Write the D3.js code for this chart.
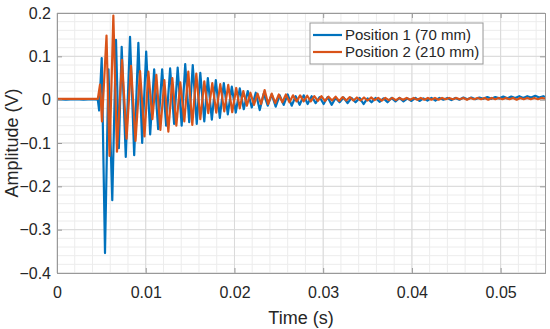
<!DOCTYPE html>
<html>
<head>
<meta charset="utf-8">
<script src="https://cdn.jsdelivr.net/npm/d3@7"></script>
<style>
  body { margin: 0; background: #fff; }
  svg { display: block; font-family: "Liberation Sans", Arial, sans-serif; }
</style>
</head>
<body>
<svg width="550" height="329"></svg>
<script>
// time in ms, amplitude in V
const pos1 = [
  [0,0.001],[1,0],[2,0.001],[3,0],[4,0.001],[4.6,0],[4.75,-0.025],[5.04,0.096],[5.41,-0.354],
  [5.8,0.07],[6.23,-0.232],[6.65,0.138],[6.97,-0.112],[7.29,0.122],[7.75,-0.132],[8.23,0.145],
  [8.7,-0.128],[9.17,0.131],[9.6,-0.1],[10.05,0.111],[10.5,-0.08],[10.95,0.07],[11.4,-0.068],
  [11.85,0.07],[12.3,-0.06],[12.75,0.072],[13.2,-0.056],[13.6,0.074],[14.05,-0.06],[14.45,0.082],
  [14.9,-0.052],[15.3,0.08],[15.75,-0.056],[16.15,0.062],[16.6,-0.05],[17.0,0.05],[17.45,-0.046],
  [17.9,0.045],[18.35,-0.042],[18.8,0.038],[19.25,-0.034],[19.7,0.03],[20.15,-0.03],[20.6,0.026],
  [21.05,-0.022],[21.5,0.02],[21.95,-0.018],[22.4,0.016],[22.85,-0.024],[23.3,0.014],[23.75,-0.014],
  [24.2,0.012],[24.65,-0.016],[25.1,0.01],[25.55,-0.012],[26.0,0.012],[26.45,-0.014],[26.9,0.008],
  [27.35,-0.012],[27.8,0.01],[28.25,-0.01],[28.7,0.008],[29.15,-0.008],[29.6,0.006],[30.05,-0.01],
  [30.5,0.006],[30.95,-0.012],[31.4,0.004],[31.85,-0.006],[32.3,0.005],[32.75,-0.008],[33.2,0.004],
  [33.65,-0.006],[34.1,0.004],[34.55,-0.01],[35.0,0.003],[35.45,-0.006],[35.9,0.004],[36.35,-0.005],
  [36.8,0.003],[37.25,-0.006],[37.7,0.004],[38.15,-0.004],[38.6,0.004],[39.05,-0.004],[39.5,0.003],
  [39.95,-0.003],[40.4,0.004],[40.85,-0.003],[41.3,0.003],[41.75,-0.002],[42.2,0.004],[42.65,-0.002],
  [43.1,0.004],[43.55,0],[44,0.004],[44.45,-0.001],[44.9,0.004],[45.35,0],[45.8,0.005],[46.25,0.001],
  [46.7,0.005],[47.15,0.001],[47.6,0.005],[48.05,0.002],[48.5,0.006],[48.95,0.002],[49.4,0.006],
  [49.85,0.003],[50.3,0.007],[50.75,0.003],[51.2,0.007],[51.65,0.004],[52.1,0.008],[52.55,0.004],
  [53,0.008],[53.45,0.005],[53.9,0.009],[54.35,0.005],[54.8,0.008],[55,0.006]
];

const pos2 = [
  [0,0.002],[1,0.002],[2,0.002],[3,0.002],[4,0.002],[4.6,0.002],[4.85,0.035],[5.07,-0.05],
  [5.58,0.148],[5.92,-0.13],[6.35,0.194],[6.76,-0.12],[7.33,0.092],[7.84,-0.09],[8.34,0.078],
  [8.85,-0.095],[9.36,0.066],[9.86,-0.085],[10.3,0.065],[10.75,-0.045],[11.2,0.057],[11.65,-0.07],
  [12.1,0.045],[12.55,-0.074],[13.0,0.05],[13.45,-0.06],[13.9,0.04],[14.35,-0.05],[14.8,0.065],
  [15.25,-0.058],[15.7,0.06],[16.15,-0.045],[16.6,0.042],[17.05,-0.031],[17.5,0.038],[17.95,-0.03],
  [18.4,0.036],[18.85,-0.027],[19.3,0.034],[19.75,-0.029],[20.2,0.027],[20.6,-0.02],[21.0,0.02],
  [21.4,-0.014],[21.8,0.016],[22.2,-0.012],[22.6,0.014],[23.0,-0.01],[23.4,0.022],[23.8,-0.01],
  [24.2,0.014],[24.6,-0.008],[25.0,0.012],[25.4,-0.006],[25.8,0.012],[26.2,-0.006],[26.6,0.01],
  [27.0,-0.004],[27.4,0.01],[27.8,-0.004],[28.2,0.009],[28.6,-0.004],[29.0,0.008],[29.4,-0.003],
  [29.8,0.008],[30.2,-0.003],[30.6,0.007],[31.0,-0.002],[31.4,0.007],[31.8,-0.003],[32.2,0.006],
  [32.6,-0.002],[33.0,0.006],[33.4,-0.002],[33.8,0.005],[34.2,-0.002],[34.6,0.005],[35.0,-0.002],
  [35.4,0.005],[35.8,-0.001],[36.2,0.004],[36.6,-0.002],[37.0,0.004],[37.4,-0.001],[37.8,0.004],
  [38.2,-0.001],[38.6,0.004],[39.0,0],[39.4,0.004],[39.8,0],[40.2,0.004],[40.6,0],[41.0,0.004],
  [41.4,0],[41.8,0.004],[42.2,0],[42.6,0.004],[43.0,0],[43.4,0.004],[43.8,0.001],[44.2,0.004],
  [44.6,0.001],[45.0,0.004],[45.4,0.001],[45.8,0.004],[46.2,0],[46.6,0.004],[47.0,0.001],[47.4,0.004],
  [47.8,0.001],[48.2,0.004],[48.6,0],[49.0,0.004],[49.4,0.001],[49.8,0.004],[50.2,0.001],[50.6,0.004],
  [51.0,0.001],[51.4,0.004],[51.8,0],[52.2,0.004],[52.6,0.001],[53.0,0.004],[53.4,0.001],[53.8,0.004],
  [54.2,0.001],[54.6,0.004],[55,0.002]
];

const seriesNames = ['Position 1 (70 mm)', 'Position 2 (210 mm)'];
const seriesColors = ['#0072BD', '#D95319'];
const xTicks = [0, 0.01, 0.02, 0.03, 0.04, 0.05];
const yTicks = [-0.4, -0.3, -0.2, -0.1, 0, 0.1, 0.2];

const svg = d3.select('svg');
const margin = {top: 13, right: 5, bottom: 56, left: 57};
const width = +svg.attr('width');
const height = +svg.attr('height');

const x = d3.scaleLinear().domain([0, 0.055]).range([margin.left, width - margin.right]);
const y = d3.scaleLinear().domain([-0.4, 0.2]).range([height - margin.bottom, margin.top]);

const grid = svg.append('g');
// minor grid
grid.selectAll('.xminor').data(d3.range(0, 0.0551, 0.002))
  .enter().append('line')
  .attr('x1', d => x(d)).attr('x2', d => x(d))
  .attr('y1', y.range()[0]).attr('y2', y.range()[1])
  .attr('stroke', '#ececec');
grid.selectAll('.yminor').data(d3.range(-0.4, 0.201, 0.02))
  .enter().append('line')
  .attr('y1', d => y(d)).attr('y2', d => y(d))
  .attr('x1', x.range()[0]).attr('x2', x.range()[1])
  .attr('stroke', '#ececec');
// major grid
grid.selectAll('.xmajor').data(xTicks)
  .enter().append('line')
  .attr('x1', d => x(d)).attr('x2', d => x(d))
  .attr('y1', y.range()[0]).attr('y2', y.range()[1])
  .attr('stroke', '#d9d9d9');
grid.selectAll('.ymajor').data(yTicks)
  .enter().append('line')
  .attr('y1', d => y(d)).attr('y2', d => y(d))
  .attr('x1', x.range()[0]).attr('x2', x.range()[1])
  .attr('stroke', '#d9d9d9');

const line = d3.line()
  .x(d => x(d[0] / 1000))
  .y(d => y(d[1]));

[pos1, pos2].forEach((data, i) => {
  svg.append('path')
    .datum(data)
    .attr('d', line)
    .attr('fill', 'none')
    .attr('stroke', seriesColors[i])
    .attr('stroke-width', 2.2)
    .attr('stroke-linejoin', 'round');
});

// axes
const fmt = d => d === 0 ? '0' : d3.format('.2~f')(d);
svg.append('g')
  .attr('transform', `translate(0,${y.range()[0]})`)
  .call(d3.axisBottom(x).tickValues(xTicks).tickSize(-5).tickPadding(14).tickFormat(fmt));
svg.append('g')
  .attr('transform', `translate(${margin.left},0)`)
  .call(d3.axisLeft(y).tickValues(yTicks).tickSize(-5).tickPadding(6).tickFormat(fmt));
svg.append('g')
  .attr('transform', `translate(0,${margin.top})`)
  .call(d3.axisTop(x).tickValues(xTicks).tickSize(-5).tickFormat(''));
svg.append('g')
  .attr('transform', `translate(${width - margin.right},0)`)
  .call(d3.axisRight(y).tickValues(yTicks).tickSize(-5).tickFormat(''));

svg.selectAll('.domain, .tick line').attr('stroke', '#999');
svg.selectAll('.tick text').attr('fill', '#262626').style('font-size', '16px');

svg.append('text')
  .attr('x', (x.range()[0] + x.range()[1]) / 2)
  .attr('y', 324)
  .attr('text-anchor', 'middle')
  .attr('fill', '#262626')
  .style('font-size', '18px')
  .text('Time (s)');

svg.append('text')
  .attr('transform', `translate(18,${(y.range()[0] + y.range()[1]) / 2}) rotate(-90)`)
  .attr('text-anchor', 'middle')
  .attr('fill', '#262626')
  .style('font-size', '18px')
  .text('Amplitude (V)');

// legend
const legend = svg.append('g').attr('transform', 'translate(310,23)');
legend.append('rect')
  .attr('width', 173).attr('height', 41)
  .attr('fill', '#fff').attr('stroke', '#999');
seriesNames.forEach((name, i) => {
  const row = legend.append('g').attr('transform', `translate(0,${12 + i * 17})`);
  row.append('line')
    .attr('x1', 3).attr('x2', 32)
    .attr('stroke', seriesColors[i]).attr('stroke-width', 2.2);
  row.append('text')
    .attr('x', 35).attr('dy', '0.35em')
    .attr('fill', '#262626')
    .style('font-size', '15px')
    .text(name);
});
</script>
</body>
</html>
